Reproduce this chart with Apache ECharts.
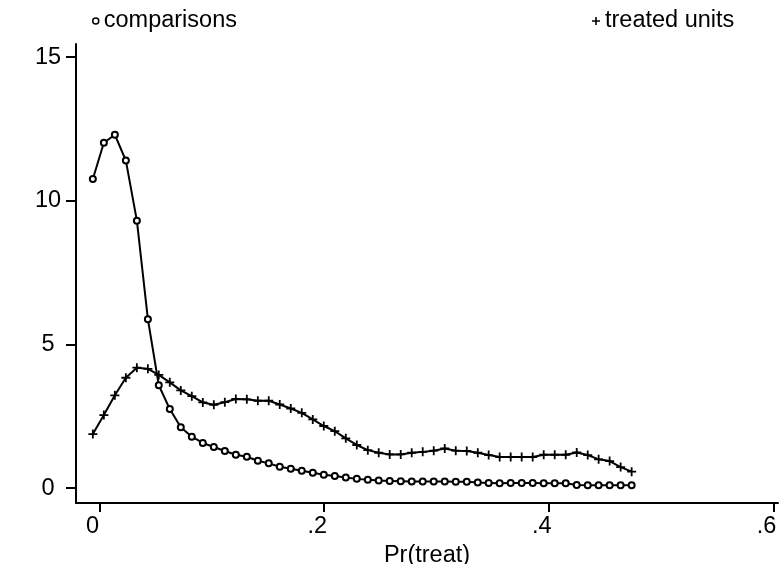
<!DOCTYPE html>
<html>
<head>
<meta charset="utf-8">
<script src="https://cdn.jsdelivr.net/npm/echarts@6/dist/echarts.min.js"></script>
<style>
html,body{margin:0;padding:0;background:#fff;}
#chart{width:779px;height:564px;}
</style>
</head>
<body>
<div id="chart"></div>
<script>
// evaluation grid (Pr(treat))
const xValues = [-0.0060,0.0038,0.0136,0.0234,0.0332,0.0430,0.0527,0.0625,0.0723,0.0821,
  0.0919,0.1017,0.1115,0.1213,0.1311,0.1409,0.1506,0.1604,0.1702,0.1800,
  0.1898,0.1996,0.2094,0.2192,0.2290,0.2388,0.2485,0.2583,0.2681,0.2779,
  0.2877,0.2975,0.3073,0.3171,0.3269,0.3367,0.3464,0.3562,0.3660,0.3758,
  0.3856,0.3954,0.4052,0.4150,0.4248,0.4346,0.4443,0.4541,0.4639,0.4737];
// density of comparisons
const comparisons = [10.76,12.02,12.30,11.40,9.31,5.88,3.58,2.75,2.12,1.79,
  1.57,1.43,1.29,1.16,1.09,0.95,0.86,0.74,0.67,0.60,
  0.53,0.46,0.42,0.37,0.32,0.29,0.26,0.25,0.24,0.23,
  0.23,0.23,0.23,0.22,0.22,0.19,0.18,0.17,0.18,0.18,
  0.18,0.17,0.17,0.17,0.11,0.10,0.10,0.10,0.10,0.10];
// density of treated units
const treated = [1.88,2.54,3.23,3.84,4.19,4.15,3.94,3.68,3.40,3.20,
  2.98,2.90,2.99,3.10,3.09,3.04,3.04,2.91,2.77,2.62,
  2.39,2.16,1.98,1.73,1.50,1.32,1.23,1.17,1.17,1.23,
  1.26,1.30,1.38,1.30,1.29,1.23,1.15,1.08,1.08,1.08,
  1.08,1.16,1.16,1.16,1.24,1.15,1.00,0.94,0.73,0.57];
const xTicks = [0, 0.2, 0.4, 0.6];
const yTicks = [0, 5, 10, 15];
const seriesNames = ['comparisons', 'treated units'];

const FONT = "'Liberation Sans', Arial, Helvetica, sans-serif";
const FS = 23.5;
const plusPath = 'path://M4,0h2v10h-2zM0,4h10v2h-10z';

const chart = echarts.init(document.getElementById('chart'), null, {renderer: 'canvas'});
const pair = (ys) => xValues.map((x, i) => [x, ys[i]]);

chart.setOption({
  animation: false,
  backgroundColor: '#fff',
  textStyle: {fontFamily: FONT, color: '#000'},
  grid: {left: 76, right: 1, top: 44, bottom: 61, containLabel: false, outerBoundsMode: 'none'},
  legend: [
    {data: [seriesNames[0]], left: 87, top: 4, icon: 'circle', itemWidth: 6, itemHeight: 6,
     itemStyle: {color: '#fff', borderColor: '#000', borderWidth: 1.5},
     textStyle: {fontSize: FS, fontFamily: FONT, color: '#000'}},
    {data: [seriesNames[1]], left: 587, top: 4, icon: plusPath, itemWidth: 8, itemHeight: 8,
     itemStyle: {color: '#000', borderWidth: 0},
     textStyle: {fontSize: FS, fontFamily: FONT, color: '#000'}}
  ],
  xAxis: {
    type: 'value', min: -0.021, max: 0.604,
    name: 'Pr(treat)', nameLocation: 'middle', nameGap: 37,
    nameTextStyle: {fontSize: FS, fontFamily: FONT, color: '#000'},
    axisLine: {show: true, onZero: false, lineStyle: {color: '#000', width: 2}},
    axisTick: {show: true, customValues: xTicks, length: 9, lineStyle: {color: '#000', width: 2}},
    axisLabel: {customValues: xTicks, fontSize: FS, fontFamily: FONT, color: '#000', margin: 12,
      padding: [0, 14, 0, 0],
      formatter: v => v === 0 ? '0' : String(v).replace(/^0/, '')},
    splitLine: {show: false}
  },
  yAxis: {
    type: 'value', min: -0.52, max: 15.46,
    axisLine: {show: true, onZero: false, lineStyle: {color: '#000', width: 2}},
    axisTick: {show: true, customValues: yTicks, length: 10, lineStyle: {color: '#000', width: 2}},
    axisLabel: {customValues: yTicks, fontSize: FS, fontFamily: FONT, color: '#000', margin: 28, align: 'center',
      padding: [3, 0, 0, 0]},
    splitLine: {show: false}
  },
  series: [
    {name: seriesNames[0], type: 'line', data: pair(comparisons), showAllSymbol: true,
     symbol: 'emptyCircle', symbolSize: 6,
     lineStyle: {color: '#000', width: 2},
     itemStyle: {color: '#000', borderColor: '#000', borderWidth: 1.5}},
    {name: seriesNames[1], type: 'line', data: pair(treated), showAllSymbol: true,
     symbol: plusPath, symbolSize: 9,
     lineStyle: {color: '#000', width: 2},
     itemStyle: {color: '#000', borderWidth: 0}}
  ]
});
</script>
</body>
</html>
